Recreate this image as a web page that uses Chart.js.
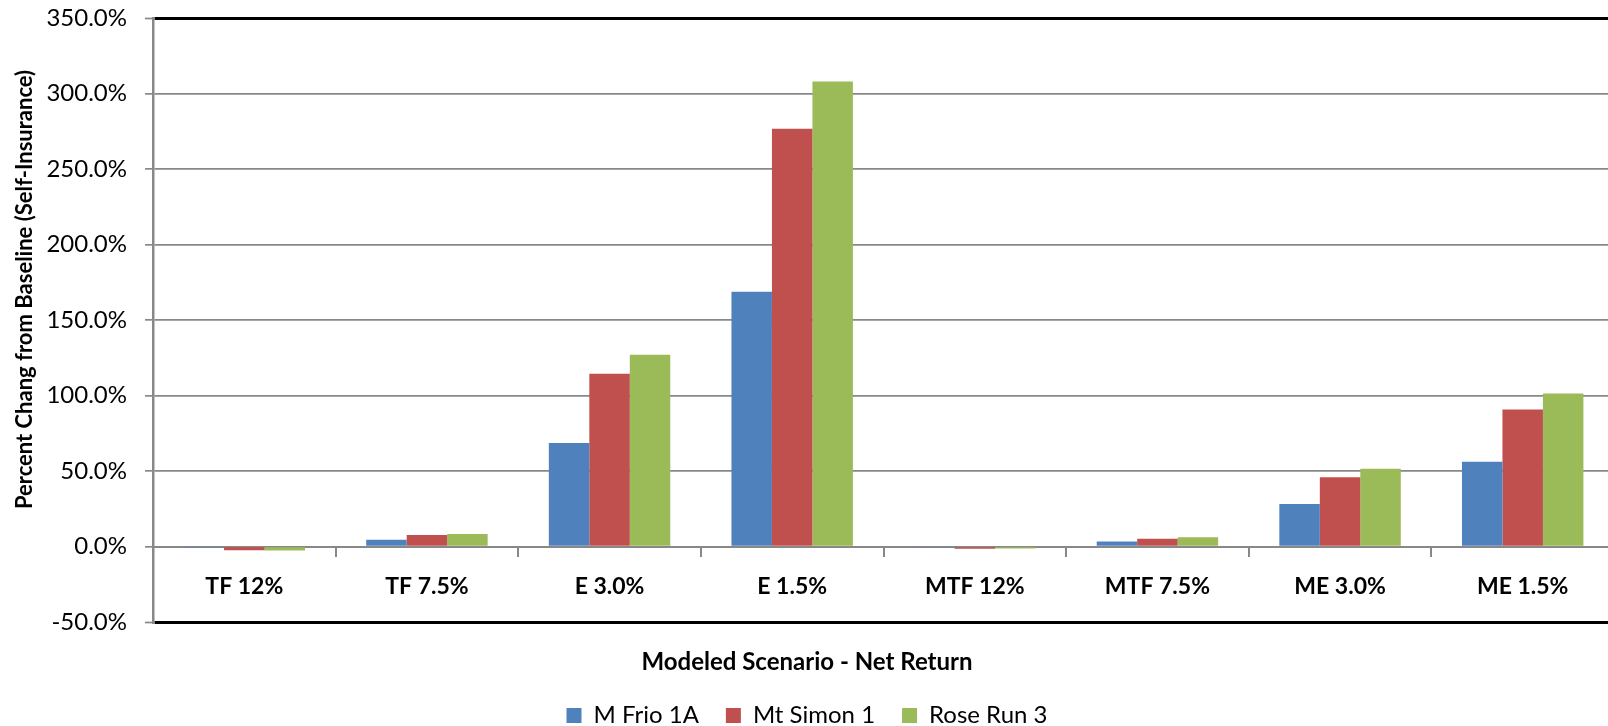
<!DOCTYPE html>
<html>
<head>
<meta charset="utf-8">
<script src="https://cdn.jsdelivr.net/npm/chart.js@4.4.1/dist/chart.umd.min.js"></script>
<style>
  html, body { margin: 0; padding: 0; background: #ffffff; overflow: hidden; }
  #wrap { width: 1608px; height: 726px; position: relative; overflow: hidden; }
</style>
</head>
<body>
<div id="wrap"><canvas id="chart" width="1614" height="726"></canvas></div>
<script>
// Scenario categories along the x axis
const scenarios = ['TF 12%', 'TF 7.5%', 'E 3.0%', 'E 1.5%', 'MTF 12%', 'MTF 7.5%', 'ME 3.0%', 'ME 1.5%'];

// Percent change from baseline for each site
const mFrio1A  = [-0.8, 4.4, 68.5, 168.7, -0.4, 3.3, 28.1, 56.1];
const mtSimon1 = [-2.4, 7.6, 114.4, 276.7, -1.4, 5.2, 45.9, 90.7];
const roseRun3 = [-2.6, 8.3, 127.0, 308.1, -1.3, 6.2, 51.5, 101.3];

const seriesNames  = ['M Frio 1A', 'Mt Simon 1', 'Rose Run 3'];
const seriesColors = ['#4F81BD', '#C0504D', '#9BBB59'];

// Value axis range and step
const yMin = -50;
const yMax = 350;
const yStep = 50;

const xTitle = 'Modeled Scenario - Net Return';
const yTitle = 'Percent Chang from Baseline (Self-Insurance)';

const GRID = '#888888';
const FONT = 'Lato';

// Rotated title for the value axis
const yTitlePlugin = {
  id: 'yAxisTitle',
  afterDraw(chart) {
    const ctx = chart.ctx;
    ctx.save();
    ctx.translate(24.5, 289.5);
    ctx.rotate(-Math.PI / 2);
    ctx.font = 'bold 22px ' + FONT;
    ctx.fillStyle = '#000000';
    ctx.textAlign = 'center';
    ctx.textBaseline = 'middle';
    ctx.fillText(yTitle, 0, 0);
    ctx.restore();
  }
};

const seriesData = [mFrio1A, mtSimon1, roseRun3];

new Chart(document.getElementById('chart'), {
  type: 'bar',
  data: {
    labels: scenarios,
    datasets: seriesNames.map((name, i) => ({
      label: name,
      data: seriesData[i],
      backgroundColor: seriesColors[i],
      borderWidth: 0,
      categoryPercentage: 0.665,
      barPercentage: 1.0
    }))
  },
  options: {
    responsive: false,
    animation: false,
    devicePixelRatio: 1,
    layout: { padding: { top: 0, left: 0, right: 0, bottom: -11.4 } },
    plugins: {
      tooltip: { enabled: false },
      title: {
        display: true,
        text: xTitle,
        position: 'bottom',
        weight: 500,
        color: '#000000',
        font: { family: FONT, size: 24, weight: 'bold', lineHeight: 1.2 },
        padding: { top: 25.6, bottom: 0 }
      },
      legend: {
        display: true,
        position: 'bottom',
        labels: {
          color: '#000000',
          font: { family: FONT, size: 24 },
          boxWidth: 15,
          boxHeight: 15,
          padding: 27
        }
      }
    },
    scales: {
      x: {
        position: { y: 0 },
        offset: true,
        grid: {
          display: true,
          offset: true,
          drawOnChartArea: false,
          drawTicks: true,
          tickLength: 9,
          color: GRID,
          lineWidth: 2
        },
        border: { display: true, color: GRID, width: 2 },
        ticks: {
          color: '#000000',
          font: { family: FONT, size: 23, weight: 'bold', lineHeight: 1.2 },
          padding: 17.5,
          maxRotation: 0,
          autoSkip: false
        }
      },
      y: {
        min: yMin,
        max: yMax,
        afterFit(scale) { scale.width = 153; },
        grid: {
          color: ctx => (ctx.tick && (ctx.tick.value === yMax || ctx.tick.value === yMin)) ? '#000000' : GRID,
          lineWidth: ctx => (ctx.tick && (ctx.tick.value === yMax || ctx.tick.value === yMin)) ? 3 : 1.7,
          tickColor: GRID,
          tickWidth: 1.7,
          tickLength: 8,
          drawTicks: true
        },
        border: { display: true, color: GRID, width: 2.5 },
        ticks: {
          stepSize: yStep,
          color: '#000000',
          font: { family: FONT, size: 24, lineHeight: 0.01 },
          padding: 18,
          callback: v => v.toFixed(1) + '%'
        }
      }
    }
  },
  plugins: [yTitlePlugin]
});
</script>
</body>
</html>
